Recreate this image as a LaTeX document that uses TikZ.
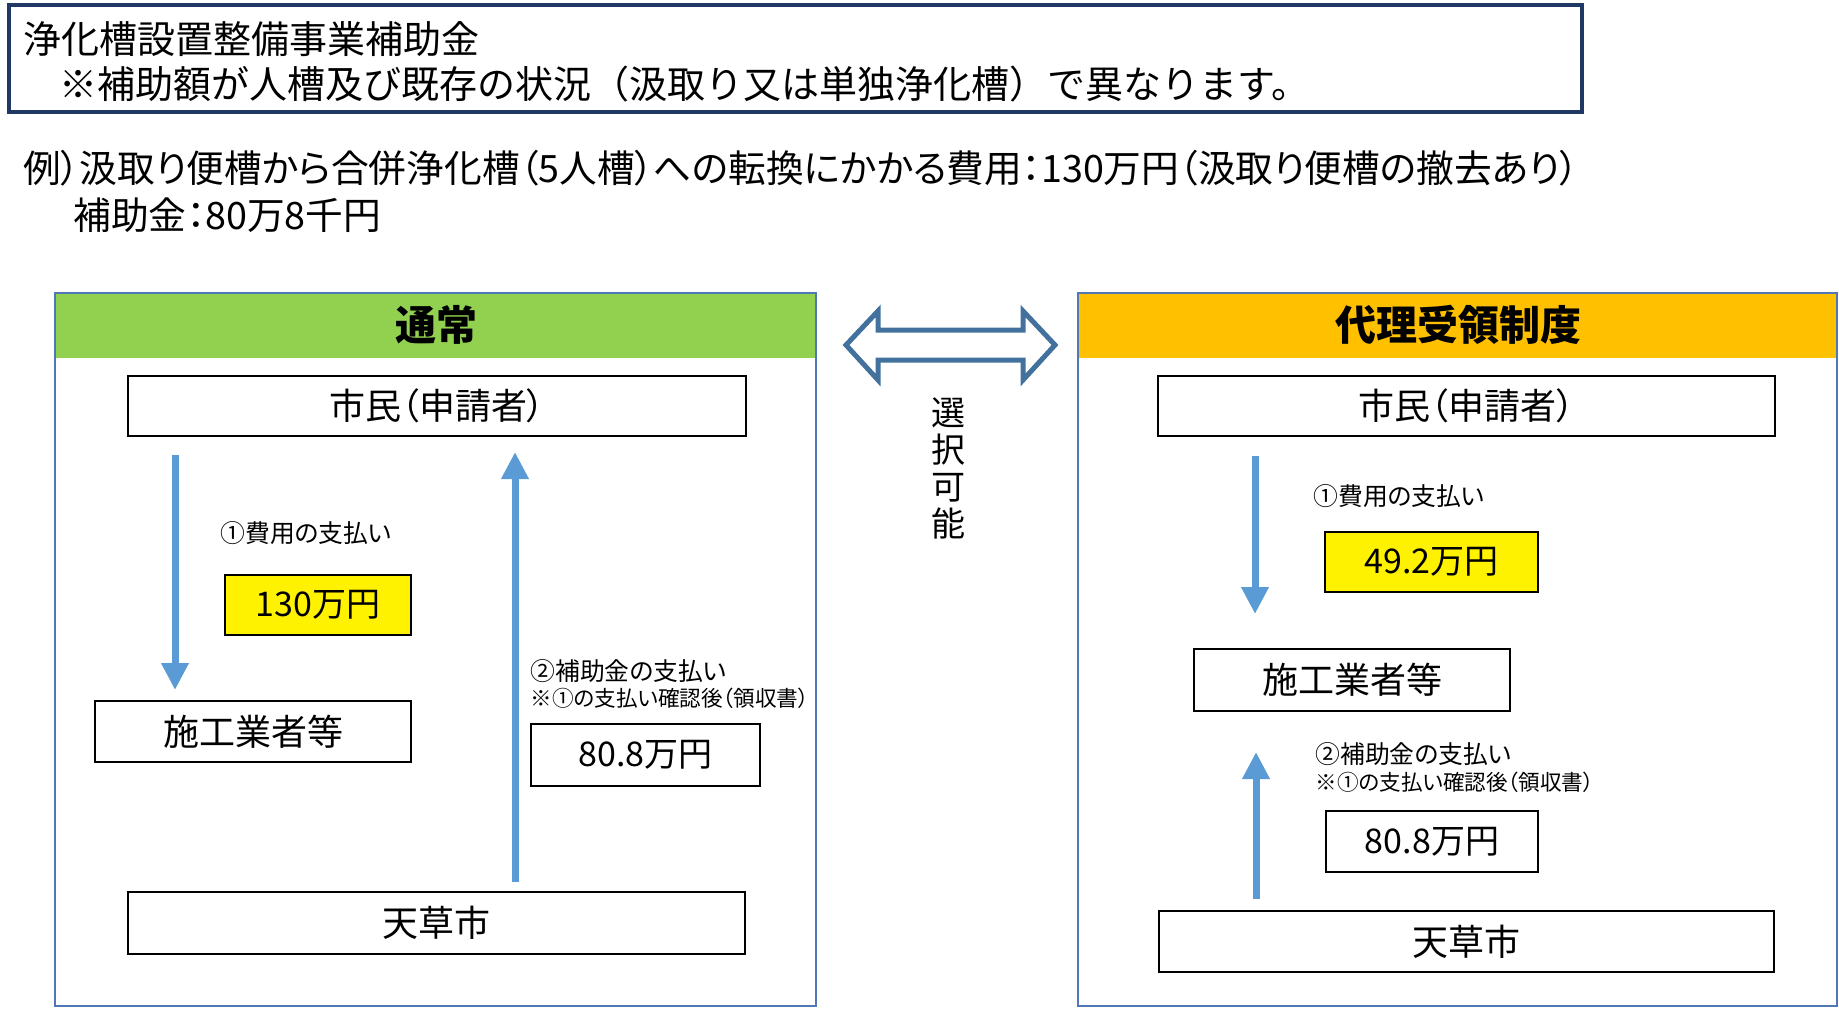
\documentclass[tikz,border=0pt]{standalone}
\usepackage{fontspec}
\setmainfont{Noto Sans CJK JP}
\newfontfamily\propjp{Noto Sans CJK JP}[RawFeature=+palt]
\usetikzlibrary{arrows.meta}
\definecolor{titleline}{HTML}{1F3864}
\definecolor{panelline}{HTML}{4F78B4}
\definecolor{greenhead}{HTML}{92D050}
\definecolor{orangehead}{HTML}{FFC000}
\definecolor{flowblue}{HTML}{5B9BD5}
\definecolor{choiceline}{HTML}{41719C}
\begin{document}
\begin{tikzpicture}[x=0.5pt,y=-0.5pt,
  party/.style={draw=black, line width=1pt, inner sep=0pt, font=\propjp\fontsize{18}{20}\selectfont},
  money/.style={party, fill=yellow, font=\propjp\fontsize{17}{19}\selectfont},
  flow/.style={draw=flowblue, line width=3.5pt, -{Triangle[width=13pt,length=13.5pt]}},
  note/.style={anchor=west, inner sep=0pt, font=\propjp\fontsize{12.4}{14}\selectfont},
  subnote/.style={note, font=\propjp\fontsize{10.8}{12}\selectfont},
  headtxt/.style={inner sep=0pt, font=\propjp\bfseries\fontsize{20.5}{22}\selectfont},
  lead/.style={anchor=west, inner sep=0pt, font=\fontsize{19}{21}\selectfont}]
\useasboundingbox (0,0) rectangle (1839,1008);
\draw[titleline, line width=2.3pt] (9,5) rectangle (1582,112);
\node[lead] (kind) at (23,39) {浄化槽設置整備事業補助金};
\node[lead] (kindnote) at (59,84) {※補助額が人槽及び既存の状況（汲取り又は単独浄化槽）で異なります。};
\node[lead, font=\propjp\fontsize{18.85}{21}\selectfont] (example) at (23,168) {例）汲取り便槽から合併浄化槽（5人槽）への転換にかかる費用：130万円（汲取り便槽の撤去あり）};
\node[lead, font=\propjp\fontsize{18.85}{21}\selectfont] (grant) at (73,215) {補助金：80万8千円};

\fill[greenhead] (55,293) rectangle (816,358);
\draw[panelline, line width=0.75pt] (55,293) rectangle (816,1006);
\fill[orangehead] (1078,293) rectangle (1837,358);
\draw[panelline, line width=0.75pt] (1078,293) rectangle (1837,1006);
\node[headtxt] (tsujo) at (436,325) {通常};
\node[headtxt] (dairi) at (1458,325) {代理受領制度};

\draw[choiceline, line width=2.5pt, fill=white] (846,345)--(878,311)--(878,330)--(1023,330)--(1023,311)--(1055,345)--(1023,380)--(1023,360)--(878,360)--(878,380)--cycle;
\node[inner sep=0pt, align=center, font=\propjp\fontsize{17}{18.5}\selectfont] (sentaku) at (948,468) {選\\択\\可\\能};

\node[party, minimum width=309pt, minimum height=30pt] (shiminL) at (437,406) {市民（申請者）};
\node[money, minimum width=93pt, minimum height=30pt] (hiyouL) at (318,605) {130万円};
\node[party, minimum width=158pt, minimum height=30.5pt] (gyoshaL) at (253,731.5) {施工業者等};
\node[party, minimum width=114.5pt, minimum height=31pt, font=\propjp\fontsize{17}{19}\selectfont] (hojoL) at (645.5,755) {80.8万円};
\node[party, minimum width=308.5pt, minimum height=31pt] (amakusaL) at (436.5,923) {天草市};
\node[note] (payL) at (220,533) {①費用の支払い};
\node[note] (grantL) at (530,671) {②補助金の支払い};
\node[subnote] (checkL) at (530,698) {※①の支払い確認後（領収書）};
\coordinate (downLs) at (175,455);
\coordinate (downLe) at (175,690);
\coordinate (upLs) at (515,882);
\coordinate (upLe) at (515,452);
\draw[flow] (downLs) -- (downLe);
\draw[flow] (upLs) -- (upLe);

\node[party, minimum width=308.5pt, minimum height=30pt] (shiminR) at (1466.5,406) {市民（申請者）};
\node[money, minimum width=106.5pt, minimum height=30pt] (hiyouR) at (1431.5,562) {49.2万円};
\node[party, minimum width=158pt, minimum height=31pt] (gyoshaR) at (1352,680) {施工業者等};
\node[party, minimum width=106pt, minimum height=30.5pt, font=\propjp\fontsize{17}{19}\selectfont] (hojoR) at (1432,841.5) {80.8万円};
\node[party, minimum width=307.5pt, minimum height=30.5pt] (amakusaR) at (1466.5,941.5) {天草市};
\node[note] (payR) at (1313,496) {①費用の支払い};
\node[note] (grantR) at (1315,754) {②補助金の支払い};
\node[subnote] (checkR) at (1315,782) {※①の支払い確認後（領収書）};
\coordinate (downRs) at (1255,456);
\coordinate (downRe) at (1255,614);
\coordinate (upRs) at (1256,899);
\coordinate (upRe) at (1256,752);
\draw[flow] (downRs) -- (downRe);
\draw[flow] (upRs) -- (upRe);
\end{tikzpicture}
\end{document}
